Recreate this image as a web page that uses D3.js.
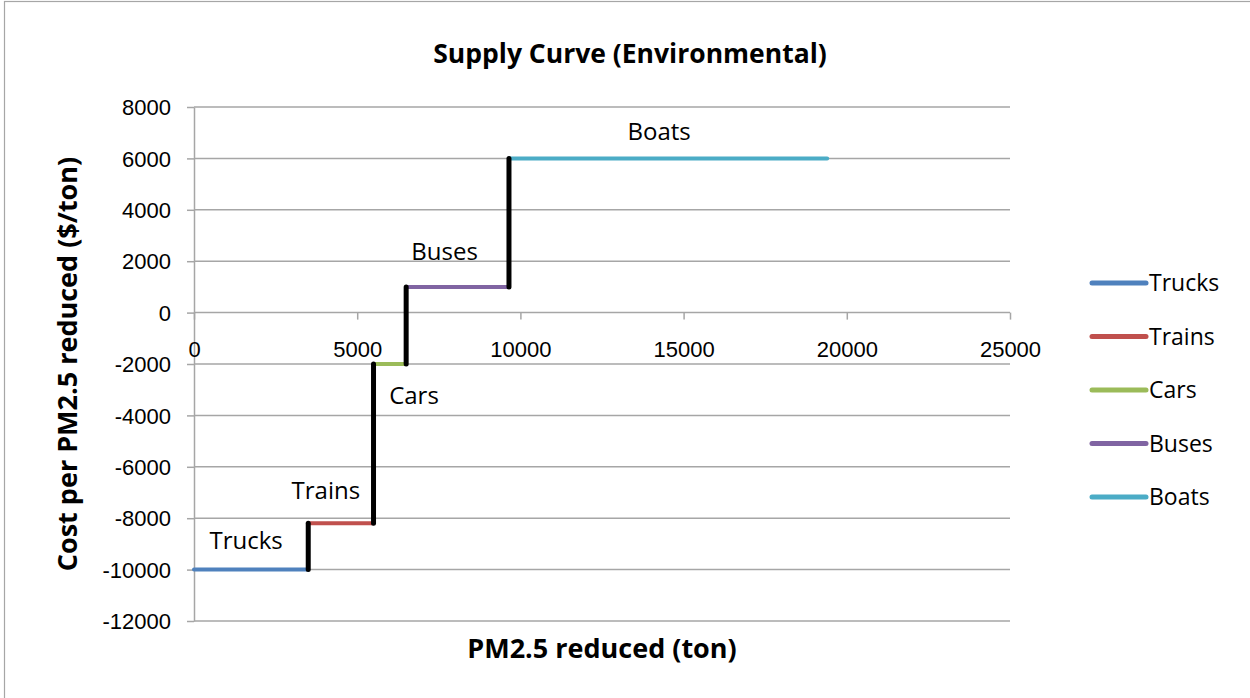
<!DOCTYPE html>
<html lang="en">
<head>
    <meta charset="UTF-8">
    <script src="https://d3js.org/d3.v7.min.js"></script>
    <style>
        body { margin: 0; background: #fff; }
        svg { font-family: "Open Sans", sans-serif; }
        .grid line { stroke: #a6a6a6; stroke-width: 1.5px; }
        .axis path, .axis line { stroke: #a6a6a6; stroke-width: 1.5px; }
        .axis text { font-size: 22px; fill: #000; }
    </style>
</head>
<body>
<script>
    const categories = ["Trucks", "Trains", "Cars", "Buses", "Boats"];
    const startTons = [0, 3500, 5500, 6500, 9650];
    const endTons = [3500, 5500, 6500, 9650, 19400];
    const costs = [-10000, -8200, -2000, 1000, 6000];
    const colors = ["#4f81bd", "#c0504d", "#9bbb59", "#8064a2", "#4bacc6"];
    const xTicks = [0, 5000, 10000, 15000, 20000, 25000];
    const yTicks = [8000, 6000, 4000, 2000, 0, -2000, -4000, -6000, -8000, -10000, -12000];

    const width = 1250, height = 698;
    const plot = {left: 194, right: 1010, top: 107, bottom: 621};

    const x = d3.scaleLinear().domain([0, 25000]).range([plot.left, plot.right]);
    const y = d3.scaleLinear().domain([-12000, 8000]).range([plot.bottom, plot.top]);

    // plain hyphen for negatives, like the original
    const fmt = d => String(d);

    const svg = d3.select('body').append('svg')
        .attr('width', width)
        .attr('height', height);

    // outer chart border
    svg.append('rect')
        .attr('x', 4.5).attr('y', 1.5)
        .attr('width', 1300).attr('height', 800)
        .attr('fill', 'none').attr('stroke', '#a6a6a6').attr('stroke-width', 1.2);

    // horizontal gridlines
    svg.append('g').attr('class', 'grid')
        .selectAll('line')
        .data(yTicks)
        .enter().append('line')
        .attr('x1', plot.left).attr('x2', plot.right)
        .attr('y1', d => y(d)).attr('y2', d => y(d));

    // y axis on the left
    const yAxis = svg.append('g').attr('class', 'axis')
        .attr('transform', `translate(${plot.left},0)`)
        .call(d3.axisLeft(y).tickValues(yTicks).tickSize(7).tickSizeOuter(0).tickPadding(16).tickFormat(fmt));
    yAxis.selectAll('text').attr('dy', '0.35em');

    // x axis crosses at y = 0
    const xAxis = svg.append('g').attr('class', 'axis')
        .attr('transform', `translate(0,${y(0)})`)
        .call(d3.axisBottom(x).tickValues(xTicks).tickSize(7).tickSizeOuter(0).tickPadding(0).tickFormat(fmt));
    xAxis.select('.domain').remove();
    xAxis.selectAll('.tick line').attr('y1', 0);
    xAxis.selectAll('text').attr('dy', '1.7em');

    // coloured steps
    svg.append('g').selectAll('line')
        .data(categories)
        .enter().append('line')
        .attr('x1', (d, i) => x(startTons[i]))
        .attr('x2', (d, i) => x(endTons[i]))
        .attr('y1', (d, i) => y(costs[i]))
        .attr('y2', (d, i) => y(costs[i]))
        .attr('stroke', (d, i) => colors[i])
        .attr('stroke-width', 4)
        .attr('stroke-linecap', 'round');

    // black risers between steps
    svg.append('g').selectAll('line')
        .data(categories.slice(1))
        .enter().append('line')
        .attr('x1', (d, i) => x(startTons[i + 1]))
        .attr('x2', (d, i) => x(startTons[i + 1]))
        .attr('y1', (d, i) => y(costs[i]))
        .attr('y2', (d, i) => y(costs[i + 1]))
        .attr('stroke', '#000')
        .attr('stroke-width', 5)
        .attr('stroke-linecap', 'round');

    // step labels
    const labelOffset = {
        Trucks: {dx: -5, dy: -21, anchor: 'middle'},
        Trains: {dx: -15, dy: -24, anchor: 'middle'},
        Cars: {dx: -17, dy: 40, anchor: 'start'},
        Buses: {dx: -13, dy: -27, anchor: 'middle'},
        Boats: {dx: -9, dy: -18, anchor: 'middle'}
    };
    svg.append('g').selectAll('text')
        .data(categories)
        .enter().append('text')
        .attr('x', (d, i) => {
            const o = labelOffset[d];
            const base = o.anchor === 'start' ? x(endTons[i]) : (x(startTons[i]) + x(endTons[i])) / 2;
            return base + o.dx;
        })
        .attr('y', (d, i) => y(costs[i]) + labelOffset[d].dy)
        .attr('text-anchor', d => labelOffset[d].anchor)
        .attr('font-size', 24)
        .text(d => d);

    // title
    svg.append('text')
        .attr('x', 630).attr('y', 63)
        .attr('text-anchor', 'middle')
        .attr('font-size', 26.5).attr('font-weight', 'bold')
        .text('Supply Curve (Environmental)');

    // axis titles
    svg.append('text')
        .attr('x', 602).attr('y', 658)
        .attr('text-anchor', 'middle')
        .attr('font-size', 27).attr('font-weight', 'bold')
        .text('PM2.5 reduced (ton)');

    svg.append('text')
        .attr('transform', 'translate(77,364) rotate(-90)')
        .attr('text-anchor', 'middle')
        .attr('font-size', 27).attr('font-weight', 'bold')
        .text('Cost per PM2.5 reduced ($/ton)');

    // legend
    const legend = svg.append('g').selectAll('g')
        .data(categories)
        .enter().append('g')
        .attr('transform', (d, i) => `translate(1092,${283 + i * 53.5})`);
    legend.append('line')
        .attr('x1', 0).attr('x2', 54)
        .attr('stroke', (d, i) => colors[i])
        .attr('stroke-width', 5)
        .attr('stroke-linecap', 'round');
    legend.append('text')
        .attr('x', 57).attr('dy', '0.35em')
        .attr('font-size', 23)
        .text(d => d);
</script>
</body>
</html>
